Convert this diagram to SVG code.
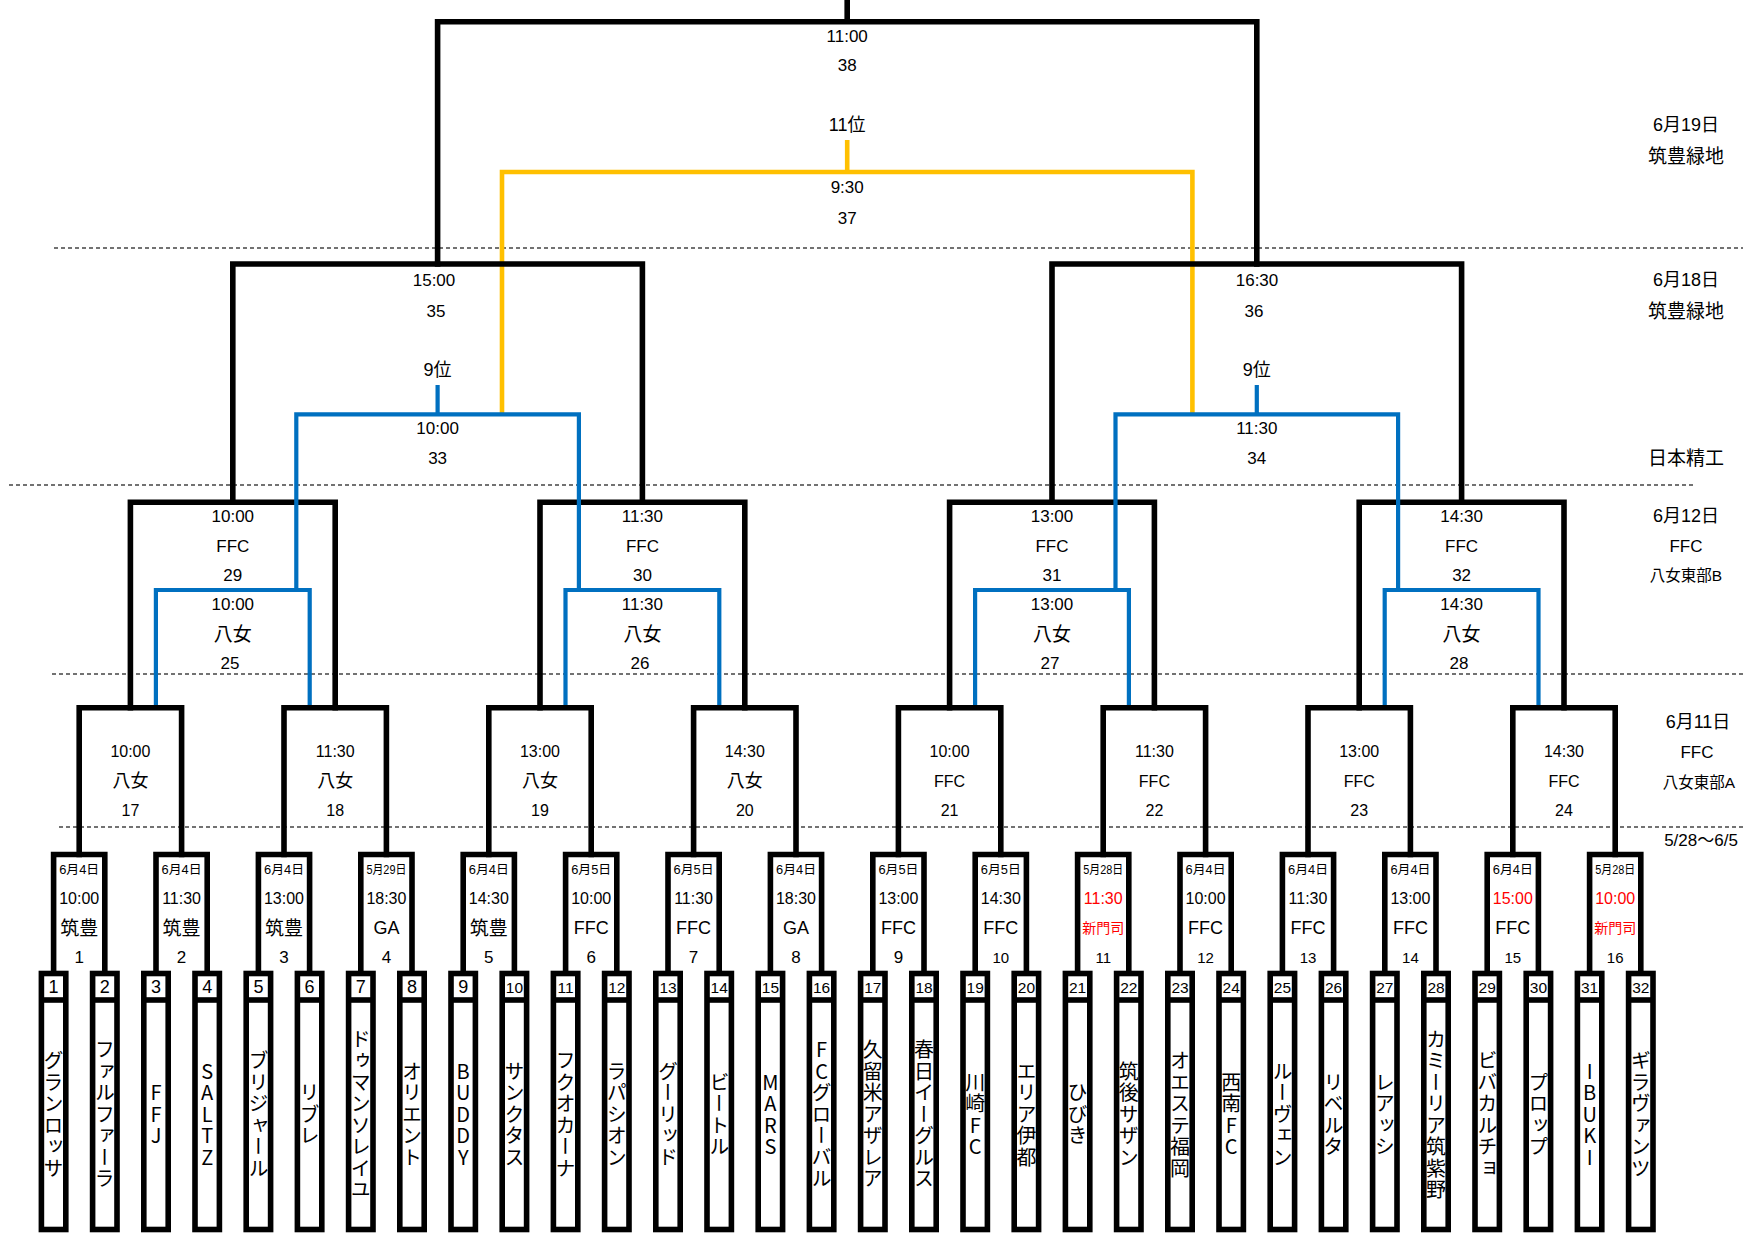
<svg xmlns="http://www.w3.org/2000/svg" width="1743" height="1233" viewBox="0 0 1743 1233">
<style>
.k{stroke:#000;stroke-width:5.6;fill:none;stroke-linecap:square;stroke-linejoin:miter}
.b{stroke:#0070C0;stroke-width:4.2;fill:none}
.y{stroke:#FFC000;stroke-width:4.6;fill:none}
.d{stroke:#444;stroke-width:1.3;stroke-dasharray:4 3;fill:none}
.tb{stroke:#000;stroke-width:5.6;fill:#fff}
text{font-family:"Liberation Sans","Noto Sans CJK JP",sans-serif;text-anchor:middle;dominant-baseline:central;fill:#000}
.l17{font-size:17px}
.l19{font-size:19px}
.l18{font-size:18px}
.l16{font-size:16px}
.dt{font-size:12.5px}
.rt{font-size:16px}
.rv{font-size:18px}
.rj{font-size:19px}
.n1{font-size:17px}
.n2{font-size:15px}
.t1{font-size:18px}
.t2{font-size:15.5px}
.red{fill:#f00}
.sm{font-size:14px}
.tv{font-family:"Noto Sans CJK JP",sans-serif;font-size:20px;letter-spacing:1.5px;writing-mode:vertical-rl;text-orientation:upright}
</style>
<g id="separators">
<path class="d" d="M54,248H1743"/>
<path class="d" d="M9,485H1694"/>
<path class="d" d="M52,674H1743"/>
<path class="d" d="M59,827H1743"/>
</g>
<g id="connectors">
<path class="y" d="M847.2,140V172M502,414.3V172H1192.4V414.3"/>
<path class="k" d="M847.2,0V21.7M437.6,264V21.7H1256.8V264"/>
<path class="k" d="M232.8,502.3V264H642.4V502.3M1052,502.3V264H1461.6V502.3"/>
<path class="k" d="M130.4,707.7V502.3H335.2V707.7M540,707.7V502.3H744.8V707.7M949.6,707.7V502.3H1154.4V707.7M1359.2,707.7V502.3H1564V707.7"/>
<path class="k" d="M79.2,854.5V707.7H181.6V854.5M284,854.5V707.7H386.4V854.5M488.8,854.5V707.7H591.2V854.5M693.6,854.5V707.7H796V854.5M898.4,854.5V707.7H1000.8V854.5M1103.2,854.5V707.7H1205.6V854.5M1308,854.5V707.7H1410.4V854.5M1512.8,854.5V707.7H1615.2V854.5"/>
<path class="k" d="M53.6,973.5V854.5H104.8V973.5M156,973.5V854.5H207.2V973.5M258.4,973.5V854.5H309.6V973.5M360.8,973.5V854.5H412V973.5M463.2,973.5V854.5H514.4V973.5M565.6,973.5V854.5H616.8V973.5M668,973.5V854.5H719.2V973.5M770.4,973.5V854.5H821.6V973.5M872.8,973.5V854.5H924V973.5M975.2,973.5V854.5H1026.4V973.5M1077.6,973.5V854.5H1128.8V973.5M1180,973.5V854.5H1231.2V973.5M1282.4,973.5V854.5H1333.6V973.5M1384.8,973.5V854.5H1436V973.5M1487.2,973.5V854.5H1538.4V973.5M1589.6,973.5V854.5H1640.8V973.5"/>
<path class="b" d="M437.6,385V414.3M296.3,590V414.3H578.9V590M1256.8,385V414.3M1115.5,590V414.3H1398.1V590"/>
<path class="b" d="M155.9,705V590H309.7V705M565.5,705V590H719.3V705M975.1,705V590H1128.9V705M1384.7,705V590H1538.5V705"/>
</g>
<g id="m38"><text class="l17" x="847.2" y="36">11:00</text><text class="l17" x="847.2" y="65">38</text></g>
<g id="m37"><text class="l18" x="847.2" y="125">11位</text><text class="l17" x="847.2" y="187">9:30</text><text class="l17" x="847.2" y="218">37</text></g>
<g id="m35"><text class="l17" x="434" y="280">15:00</text><text class="l17" x="436" y="311">35</text></g>
<g id="m33"><text class="l18" x="437.6" y="370">9位</text><text class="l17" x="437.6" y="428">10:00</text><text class="l17" x="437.6" y="458">33</text></g>
<g id="m36"><text class="l17" x="1257" y="280">16:30</text><text class="l17" x="1254" y="311">36</text></g>
<g id="m34"><text class="l18" x="1256.8" y="370">9位</text><text class="l17" x="1256.8" y="428">11:30</text><text class="l17" x="1256.8" y="458">34</text></g>
<g id="m29"><text class="l17" x="232.8" y="516">10:00</text><text class="l17" x="232.8" y="546">FFC</text><text class="l17" x="232.8" y="575">29</text></g>
<g id="m25"><text class="l17" x="232.8" y="604">10:00</text><text class="l19" x="232.8" y="634">八女</text><text class="l17" x="230" y="663">25</text></g>
<g id="m30"><text class="l17" x="642.4" y="516">11:30</text><text class="l17" x="642.4" y="546">FFC</text><text class="l17" x="642.4" y="575">30</text></g>
<g id="m26"><text class="l17" x="642.4" y="604">11:30</text><text class="l19" x="642.4" y="634">八女</text><text class="l17" x="640" y="663">26</text></g>
<g id="m31"><text class="l17" x="1052" y="516">13:00</text><text class="l17" x="1052" y="546">FFC</text><text class="l17" x="1052" y="575">31</text></g>
<g id="m27"><text class="l17" x="1052" y="604">13:00</text><text class="l19" x="1052" y="634">八女</text><text class="l17" x="1050" y="663">27</text></g>
<g id="m32"><text class="l17" x="1461.6" y="516">14:30</text><text class="l17" x="1461.6" y="546">FFC</text><text class="l17" x="1461.6" y="575">32</text></g>
<g id="m28"><text class="l17" x="1461.6" y="604">14:30</text><text class="l19" x="1461.6" y="634">八女</text><text class="l17" x="1459" y="663">28</text></g>
<g id="m17"><text class="l16" x="130.4" y="751">10:00</text><text class="l18" x="130.4" y="781">八女</text><text class="l16" x="130.4" y="810">17</text></g>
<g id="m18"><text class="l16" x="335.2" y="751">11:30</text><text class="l18" x="335.2" y="781">八女</text><text class="l16" x="335.2" y="810">18</text></g>
<g id="m19"><text class="l16" x="540" y="751">13:00</text><text class="l18" x="540" y="781">八女</text><text class="l16" x="540" y="810">19</text></g>
<g id="m20"><text class="l16" x="744.8" y="751">14:30</text><text class="l18" x="744.8" y="781">八女</text><text class="l16" x="744.8" y="810">20</text></g>
<g id="m21"><text class="l16" x="949.6" y="751">10:00</text><text class="l16" x="949.6" y="781">FFC</text><text class="l16" x="949.6" y="810">21</text></g>
<g id="m22"><text class="l16" x="1154.4" y="751">11:30</text><text class="l16" x="1154.4" y="781">FFC</text><text class="l16" x="1154.4" y="810">22</text></g>
<g id="m23"><text class="l16" x="1359.2" y="751">13:00</text><text class="l16" x="1359.2" y="781">FFC</text><text class="l16" x="1359.2" y="810">23</text></g>
<g id="m24"><text class="l16" x="1564" y="751">14:30</text><text class="l16" x="1564" y="781">FFC</text><text class="l16" x="1564" y="810">24</text></g>
<g id="m1"><text class="dt" x="79.2" y="869.5" textLength="40" lengthAdjust="spacingAndGlyphs">6月4日</text><text class="rt" x="79.2" y="898">10:00</text><text class="rj" x="79.2" y="928">筑豊</text><text class="n1" x="79.2" y="957">1</text></g>
<g id="m2"><text class="dt" x="181.6" y="869.5" textLength="40" lengthAdjust="spacingAndGlyphs">6月4日</text><text class="rt" x="181.6" y="898">11:30</text><text class="rj" x="181.6" y="928">筑豊</text><text class="n1" x="181.6" y="957">2</text></g>
<g id="m3"><text class="dt" x="284" y="869.5" textLength="40" lengthAdjust="spacingAndGlyphs">6月4日</text><text class="rt" x="284" y="898">13:00</text><text class="rj" x="284" y="928">筑豊</text><text class="n1" x="284" y="957">3</text></g>
<g id="m4"><text class="dt" x="386.4" y="869.5" textLength="40" lengthAdjust="spacingAndGlyphs">5月29日</text><text class="rt" x="386.4" y="898">18:30</text><text class="rv" x="386.4" y="928">GA</text><text class="n1" x="386.4" y="957">4</text></g>
<g id="m5"><text class="dt" x="488.8" y="869.5" textLength="40" lengthAdjust="spacingAndGlyphs">6月4日</text><text class="rt" x="488.8" y="898">14:30</text><text class="rj" x="488.8" y="928">筑豊</text><text class="n1" x="488.8" y="957">5</text></g>
<g id="m6"><text class="dt" x="591.2" y="869.5" textLength="40" lengthAdjust="spacingAndGlyphs">6月5日</text><text class="rt" x="591.2" y="898">10:00</text><text class="rv" x="591.2" y="928">FFC</text><text class="n1" x="591.2" y="957">6</text></g>
<g id="m7"><text class="dt" x="693.6" y="869.5" textLength="40" lengthAdjust="spacingAndGlyphs">6月5日</text><text class="rt" x="693.6" y="898">11:30</text><text class="rv" x="693.6" y="928">FFC</text><text class="n1" x="693.6" y="957">7</text></g>
<g id="m8"><text class="dt" x="796" y="869.5" textLength="40" lengthAdjust="spacingAndGlyphs">6月4日</text><text class="rt" x="796" y="898">18:30</text><text class="rv" x="796" y="928">GA</text><text class="n1" x="796" y="957">8</text></g>
<g id="m9"><text class="dt" x="898.4" y="869.5" textLength="40" lengthAdjust="spacingAndGlyphs">6月5日</text><text class="rt" x="898.4" y="898">13:00</text><text class="rv" x="898.4" y="928">FFC</text><text class="n1" x="898.4" y="957">9</text></g>
<g id="m10"><text class="dt" x="1000.8" y="869.5" textLength="40" lengthAdjust="spacingAndGlyphs">6月5日</text><text class="rt" x="1000.8" y="898">14:30</text><text class="rv" x="1000.8" y="928">FFC</text><text class="n2" x="1000.8" y="957">10</text></g>
<g id="m11"><text class="dt" x="1103.2" y="869.5" textLength="40" lengthAdjust="spacingAndGlyphs">5月28日</text><text class="rt red" x="1103.2" y="898">11:30</text><text class="sm red" x="1103.2" y="928">新門司</text><text class="n2" x="1103.2" y="957">11</text></g>
<g id="m12"><text class="dt" x="1205.6" y="869.5" textLength="40" lengthAdjust="spacingAndGlyphs">6月4日</text><text class="rt" x="1205.6" y="898">10:00</text><text class="rv" x="1205.6" y="928">FFC</text><text class="n2" x="1205.6" y="957">12</text></g>
<g id="m13"><text class="dt" x="1308" y="869.5" textLength="40" lengthAdjust="spacingAndGlyphs">6月4日</text><text class="rt" x="1308" y="898">11:30</text><text class="rv" x="1308" y="928">FFC</text><text class="n2" x="1308" y="957">13</text></g>
<g id="m14"><text class="dt" x="1410.4" y="869.5" textLength="40" lengthAdjust="spacingAndGlyphs">6月4日</text><text class="rt" x="1410.4" y="898">13:00</text><text class="rv" x="1410.4" y="928">FFC</text><text class="n2" x="1410.4" y="957">14</text></g>
<g id="m15"><text class="dt" x="1512.8" y="869.5" textLength="40" lengthAdjust="spacingAndGlyphs">6月4日</text><text class="rt red" x="1512.8" y="898">15:00</text><text class="rv" x="1512.8" y="928">FFC</text><text class="n2" x="1512.8" y="957">15</text></g>
<g id="m16"><text class="dt" x="1615.2" y="869.5" textLength="40" lengthAdjust="spacingAndGlyphs">5月28日</text><text class="rt red" x="1615.2" y="898">10:00</text><text class="sm red" x="1615.2" y="928">新門司</text><text class="n2" x="1615.2" y="957">16</text></g>
<g id="team1"><rect class="tb" x="41.4" y="973.5" width="24.4" height="256"/><path class="tb" d="M41.4,1000h24.4"/><text class="t1" x="53.6" y="987">1</text><text class="tv" x="53.6" y="1115">グランロッサ</text></g>
<g id="team2"><rect class="tb" x="92.6" y="973.5" width="24.4" height="256"/><path class="tb" d="M92.6,1000h24.4"/><text class="t1" x="104.8" y="987">2</text><text class="tv" x="104.8" y="1115">ファルファーラ</text></g>
<g id="team3"><rect class="tb" x="143.8" y="973.5" width="24.4" height="256"/><path class="tb" d="M143.8,1000h24.4"/><text class="t1" x="156" y="987">3</text><text class="tv" x="156" y="1115">FFJ</text></g>
<g id="team4"><rect class="tb" x="195" y="973.5" width="24.4" height="256"/><path class="tb" d="M195,1000h24.4"/><text class="t1" x="207.2" y="987">4</text><text class="tv" x="207.2" y="1115">SALTZ</text></g>
<g id="team5"><rect class="tb" x="246.2" y="973.5" width="24.4" height="256"/><path class="tb" d="M246.2,1000h24.4"/><text class="t1" x="258.4" y="987">5</text><text class="tv" x="258.4" y="1115">ブリジャール</text></g>
<g id="team6"><rect class="tb" x="297.4" y="973.5" width="24.4" height="256"/><path class="tb" d="M297.4,1000h24.4"/><text class="t1" x="309.6" y="987">6</text><text class="tv" x="309.6" y="1115">リブレ</text></g>
<g id="team7"><rect class="tb" x="348.6" y="973.5" width="24.4" height="256"/><path class="tb" d="M348.6,1000h24.4"/><text class="t1" x="360.8" y="987">7</text><text class="tv" x="360.8" y="1115">ドゥマンソレイユ</text></g>
<g id="team8"><rect class="tb" x="399.8" y="973.5" width="24.4" height="256"/><path class="tb" d="M399.8,1000h24.4"/><text class="t1" x="412" y="987">8</text><text class="tv" x="412" y="1115">オリエント</text></g>
<g id="team9"><rect class="tb" x="451" y="973.5" width="24.4" height="256"/><path class="tb" d="M451,1000h24.4"/><text class="t1" x="463.2" y="987">9</text><text class="tv" x="463.2" y="1115">BUDDY</text></g>
<g id="team10"><rect class="tb" x="502.2" y="973.5" width="24.4" height="256"/><path class="tb" d="M502.2,1000h24.4"/><text class="t2" x="514.4" y="987">10</text><text class="tv" x="514.4" y="1115">サンクタス</text></g>
<g id="team11"><rect class="tb" x="553.4" y="973.5" width="24.4" height="256"/><path class="tb" d="M553.4,1000h24.4"/><text class="t2" x="565.6" y="987">11</text><text class="tv" x="565.6" y="1115">フクオカーナ</text></g>
<g id="team12"><rect class="tb" x="604.6" y="973.5" width="24.4" height="256"/><path class="tb" d="M604.6,1000h24.4"/><text class="t2" x="616.8" y="987">12</text><text class="tv" x="616.8" y="1115">ラパシオン</text></g>
<g id="team13"><rect class="tb" x="655.8" y="973.5" width="24.4" height="256"/><path class="tb" d="M655.8,1000h24.4"/><text class="t2" x="668" y="987">13</text><text class="tv" x="668" y="1115">グーリッド</text></g>
<g id="team14"><rect class="tb" x="707" y="973.5" width="24.4" height="256"/><path class="tb" d="M707,1000h24.4"/><text class="t2" x="719.2" y="987">14</text><text class="tv" x="719.2" y="1115">ビートル</text></g>
<g id="team15"><rect class="tb" x="758.2" y="973.5" width="24.4" height="256"/><path class="tb" d="M758.2,1000h24.4"/><text class="t2" x="770.4" y="987">15</text><text class="tv" x="770.4" y="1115">MARS</text></g>
<g id="team16"><rect class="tb" x="809.4" y="973.5" width="24.4" height="256"/><path class="tb" d="M809.4,1000h24.4"/><text class="t2" x="821.6" y="987">16</text><text class="tv" x="821.6" y="1115">FCグローバル</text></g>
<g id="team17"><rect class="tb" x="860.6" y="973.5" width="24.4" height="256"/><path class="tb" d="M860.6,1000h24.4"/><text class="t2" x="872.8" y="987">17</text><text class="tv" x="872.8" y="1115">久留米アザレア</text></g>
<g id="team18"><rect class="tb" x="911.8" y="973.5" width="24.4" height="256"/><path class="tb" d="M911.8,1000h24.4"/><text class="t2" x="924" y="987">18</text><text class="tv" x="924" y="1115">春日イーグルス</text></g>
<g id="team19"><rect class="tb" x="963" y="973.5" width="24.4" height="256"/><path class="tb" d="M963,1000h24.4"/><text class="t2" x="975.2" y="987">19</text><text class="tv" x="975.2" y="1115">川崎FC</text></g>
<g id="team20"><rect class="tb" x="1014.2" y="973.5" width="24.4" height="256"/><path class="tb" d="M1014.2,1000h24.4"/><text class="t2" x="1026.4" y="987">20</text><text class="tv" x="1026.4" y="1115">エリア伊都</text></g>
<g id="team21"><rect class="tb" x="1065.4" y="973.5" width="24.4" height="256"/><path class="tb" d="M1065.4,1000h24.4"/><text class="t2" x="1077.6" y="987">21</text><text class="tv" x="1077.6" y="1115">ひびき</text></g>
<g id="team22"><rect class="tb" x="1116.6" y="973.5" width="24.4" height="256"/><path class="tb" d="M1116.6,1000h24.4"/><text class="t2" x="1128.8" y="987">22</text><text class="tv" x="1128.8" y="1115">筑後サザン</text></g>
<g id="team23"><rect class="tb" x="1167.8" y="973.5" width="24.4" height="256"/><path class="tb" d="M1167.8,1000h24.4"/><text class="t2" x="1180" y="987">23</text><text class="tv" x="1180" y="1115">オエステ福岡</text></g>
<g id="team24"><rect class="tb" x="1219" y="973.5" width="24.4" height="256"/><path class="tb" d="M1219,1000h24.4"/><text class="t2" x="1231.2" y="987">24</text><text class="tv" x="1231.2" y="1115">西南FC</text></g>
<g id="team25"><rect class="tb" x="1270.2" y="973.5" width="24.4" height="256"/><path class="tb" d="M1270.2,1000h24.4"/><text class="t2" x="1282.4" y="987">25</text><text class="tv" x="1282.4" y="1115">ルーヴェン</text></g>
<g id="team26"><rect class="tb" x="1321.4" y="973.5" width="24.4" height="256"/><path class="tb" d="M1321.4,1000h24.4"/><text class="t2" x="1333.6" y="987">26</text><text class="tv" x="1333.6" y="1115">リベルタ</text></g>
<g id="team27"><rect class="tb" x="1372.6" y="973.5" width="24.4" height="256"/><path class="tb" d="M1372.6,1000h24.4"/><text class="t2" x="1384.8" y="987">27</text><text class="tv" x="1384.8" y="1115">レアッシ</text></g>
<g id="team28"><rect class="tb" x="1423.8" y="973.5" width="24.4" height="256"/><path class="tb" d="M1423.8,1000h24.4"/><text class="t2" x="1436" y="987">28</text><text class="tv" x="1436" y="1115">カミーリア筑紫野</text></g>
<g id="team29"><rect class="tb" x="1475" y="973.5" width="24.4" height="256"/><path class="tb" d="M1475,1000h24.4"/><text class="t2" x="1487.2" y="987">29</text><text class="tv" x="1487.2" y="1115">ビバカルチョ</text></g>
<g id="team30"><rect class="tb" x="1526.2" y="973.5" width="24.4" height="256"/><path class="tb" d="M1526.2,1000h24.4"/><text class="t2" x="1538.4" y="987">30</text><text class="tv" x="1538.4" y="1115">プロップ</text></g>
<g id="team31"><rect class="tb" x="1577.4" y="973.5" width="24.4" height="256"/><path class="tb" d="M1577.4,1000h24.4"/><text class="t2" x="1589.6" y="987">31</text><text class="tv" x="1589.6" y="1115">IBUKI</text></g>
<g id="team32"><rect class="tb" x="1628.6" y="973.5" width="24.4" height="256"/><path class="tb" d="M1628.6,1000h24.4"/><text class="t2" x="1640.8" y="987">32</text><text class="tv" x="1640.8" y="1115">ギラヴァンツ</text></g>
<g id="legend">
<text class="l18" x="1686" y="125">6月19日</text><text class="l19" x="1686" y="156">筑豊緑地</text>
<text class="l18" x="1686" y="280">6月18日</text><text class="l19" x="1686" y="311">筑豊緑地</text>
<text class="l19" x="1686" y="458">日本精工</text>
<text class="l18" x="1686" y="516">6月12日</text><text class="l17" x="1686" y="546">FFC</text><text style="font-size:15.5px" x="1686" y="575">八女東部B</text>
<text class="l18" x="1698" y="722">6月11日</text><text class="l17" x="1697" y="752">FFC</text><text style="font-size:15.5px" x="1699" y="782">八女東部A</text>
<text class="l17" x="1701" y="840">5/28〜6/5</text>
</g>
</svg>
